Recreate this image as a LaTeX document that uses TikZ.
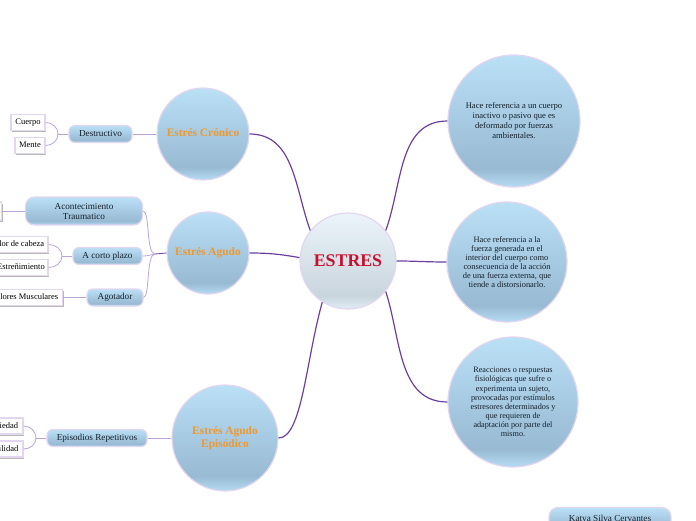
\documentclass[tikz,border=0pt]{standalone}
\usepackage{fontspec}
\setmainfont{Liberation Serif}
\usetikzlibrary{shadows}
\definecolor{bluelow}{HTML}{B5DCF2}
\definecolor{bluedark}{HTML}{98BAD3}
\definecolor{bluetop}{HTML}{BAE0F6}
\definecolor{greylow}{HTML}{E2EEF5}
\definecolor{greydark}{HTML}{C9D5DD}
\definecolor{greytop}{HTML}{EBF4FA}
\pgfdeclareverticalshading{bluebubble}{100bp}{color(0bp)=(bluelow); color(25bp)=(bluelow); color(32bp)=(bluedark); color(75bp)=(bluetop); color(100bp)=(bluetop)}
\pgfdeclareverticalshading{greybubble}{100bp}{color(0bp)=(greylow); color(25bp)=(greylow); color(32bp)=(greydark); color(75bp)=(greytop); color(100bp)=(greytop)}
\definecolor{rim}{HTML}{E3D6EF}
\definecolor{mainline}{HTML}{6B3FA0}
\definecolor{subline}{HTML}{BBA3D6}
\definecolor{topictext}{HTML}{F0982A}
\definecolor{titletext}{HTML}{C8102E}
\definecolor{bodytext}{HTML}{14202C}
\tikzset{
  bubble/.style={circle,draw=rim,line width=1.2pt,shading=bluebubble,inner sep=0pt,align=center,text=bodytext,font=\fontsize{8.2}{9.1}\selectfont},
  topic/.style={bubble,text=topictext,font=\bfseries\fontsize{11.4}{13}\selectfont},
  flattext/.style={text height=6pt,text depth=2pt},
  subtopic/.style={draw=rim,line width=1.2pt,shading=bluebubble,rounded corners=6pt,inner sep=0pt,align=center,text=bodytext,font=\fontsize{9.2}{10}\selectfont},
  leaf/.style={flattext,draw=rim,line width=1.2pt,fill=white,inner sep=0pt,minimum height=16pt,text=black,font=\fontsize{8.5}{10}\selectfont,drop shadow={shadow xshift=1pt,shadow yshift=-1.5pt,fill=black!35,opacity=.8}},
  mainlink/.style={draw=mainline,line width=1.2pt},
  sublink/.style={draw=subline,line width=.8pt}
}
\begin{document}
\begin{tikzpicture}[x=1pt,y=-1pt]
\clip (0,0) rectangle (696,520);
\path (348,261) node[bubble,shading=greybubble,minimum size=96pt,text=titletext,font=\bfseries\fontsize{17.8}{18}\selectfont] (estres) {ESTRES}
	(203,134) node[topic,text height=8pt,text depth=3pt,minimum size=92pt] (cronico) {Estrés Crónico}
	(208,253) node[topic,text height=8pt,text depth=3pt,minimum size=82pt] (agudo) {Estrés Agudo}
	(225,438) node[topic,minimum size=106pt] (episodico) {Estrés Agudo\\ Episódico}
	(514,121) node[bubble,font=\fontsize{8.6}{10}\selectfont,minimum size=132pt] (cuerpodef) {Hace referencia a un cuerpo\\inactivo o pasivo que es\\deformado por fuerzas\\ambientales.}
	(507,262) node[bubble,font=\fontsize{8.4}{9.1}\selectfont,minimum size=120pt] (fuerzadef) {Hace referencia a la\\fuerza generada en el\\interior del cuerpo como\\consecuencia de la acción\\de una fuerza externa, que\\tiende a distorsionarlo.}
	(513,402) node[bubble,minimum size=130pt] (reacciondef) {Reacciones o respuestas\\fisiológicas que sufre o\\experimenta un sujeto,\\provocadas por estímulos\\estresores determinados y\\que requieren de\\adaptación por parte del\\mismo.}
	(100.5,134) node[subtopic,flattext,minimum width=63pt,minimum height=17pt] (destructivo) {Destructivo}
	(84,211) node[subtopic,minimum width=117pt,minimum height=28pt,rounded corners=9pt] (acontecimiento) {Acontecimiento\\Traumatico}
	(107.5,256) node[subtopic,flattext,minimum width=69pt,minimum height=17pt] (cortoplazo) {A corto plazo}
	(115,297.5) node[subtopic,flattext,minimum width=56pt,minimum height=17pt] (agotador) {Agotador}
	(97,438) node[subtopic,flattext,minimum width=100pt,minimum height=17pt] (repetitivos) {Episodios Repetitivos}
	(610,519) node[subtopic,flattext,minimum width=122pt,minimum height=23pt,rounded corners=9pt] (autora) {Katya Silva Cervantes}
	(28,122.5) node[leaf,minimum width=34pt] (cuerpo) {Cuerpo}
	(30,145.5) node[leaf,minimum width=30pt] (mente) {Mente}
	(-30,211) node[leaf,minimum width=63pt,minimum height=18pt] (oculto) {}
	(16.5,244.5) node[leaf,minimum width=63pt] (cabeza) {Dolor de cabeza}
	(21,267.5) node[leaf,minimum width=54pt] (estrenimiento) {Estreñimiento}
	(24,297.5) node[leaf,minimum width=77pt] (musculares) {Dolores Musculares}
	(2,426) node[leaf,minimum width=42pt] (ansiedad) {Ansiedad}
	(-2,449) node[leaf,minimum width=50pt] (irritabilidad) {Irritabilidad};
\coordinate (nudoA) at (58,134);
\coordinate (nudoB) at (155,254);
\coordinate (nudoC) at (62,256);
\coordinate (nudoD) at (36,438);
\draw[mainlink] (estres.141) to[out=110,in=0] (cronico.east);
\draw[mainlink] (estres.176) to[out=170,in=0] (agudo.east);
\draw[mainlink] (estres.238) .. controls (306,360) and (302,438) .. (episodico.east);
\draw[mainlink] (estres.39) to[out=70,in=180] (cuerpodef.west);
\draw[mainlink] (estres.east) to[out=0,in=180] (fuerzadef.west);
\draw[mainlink] (estres.-39) to[out=-72,in=180] (reacciondef.west);
\draw[sublink] (cronico.west) -- (destructivo.east);
\draw[sublink] (destructivo.west) -- (nudoA);
\draw[sublink] (cuerpo.east) to[out=0,in=90] (nudoA);
\draw[sublink] (mente.east) to[out=0,in=-90] (nudoA);
\draw[mainlink,line width=.8pt] (agudo.west) -- (nudoB);
\draw[sublink] (acontecimiento.east) .. controls (150,211) and (146,254) .. (nudoB);
\draw[sublink] (cortoplazo.east) .. controls (148,256) and (150,255) .. (nudoB);
\draw[sublink] (agotador.east) .. controls (150,297) and (146,254) .. (nudoB);
\draw[sublink] (acontecimiento.west) -- (oculto.east);
\draw[sublink] (cortoplazo.west) -- (nudoC);
\draw[sublink] (cabeza.east) to[out=0,in=90] (nudoC);
\draw[sublink] (estrenimiento.east) to[out=0,in=-90] (nudoC);
\draw[sublink] (agotador.west) -- (musculares.east);
\draw[sublink] (episodico.west) -- (repetitivos.east);
\draw[sublink] (repetitivos.west) -- (nudoD);
\draw[sublink] (ansiedad.east) to[out=0,in=90] (nudoD);
\draw[sublink] (irritabilidad.east) to[out=0,in=-90] (nudoD);
\end{tikzpicture}
\end{document}
